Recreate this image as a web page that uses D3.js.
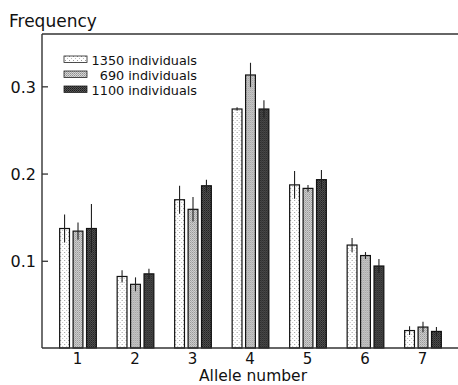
<!DOCTYPE html>
<html>
<head>
<meta charset="utf-8">
<script src="https://cdn.jsdelivr.net/npm/d3@7"></script>
<style>
  body { margin: 0; background: #fff; }
  svg text { font-family: "DejaVu Sans", sans-serif; fill: #111; }
</style>
</head>
<body>
<div id="chart"></div>
<script>
// data
const alleles = ["1", "2", "3", "4", "5", "6", "7"];
const seriesNames = ["1350 individuals", "690 individuals", "1100 individuals"];
const freq1350 = [0.137, 0.082, 0.170, 0.274, 0.187, 0.118, 0.020];
const freq690  = [0.134, 0.073, 0.159, 0.313, 0.183, 0.106, 0.024];
const freq1100 = [0.137, 0.085, 0.186, 0.274, 0.193, 0.094, 0.019];
const err1350 = [0.016, 0.007, 0.016, 0.002, 0.016, 0.008, 0.005];
const err690  = [0.010, 0.008, 0.014, 0.014, 0.004, 0.004, 0.006];
const err1100 = [0.028, 0.006, 0.007, 0.010, 0.011, 0.008, 0.005];
const yTicks = [0.1, 0.2, 0.3];

const W = 458, H = 385;
const margin = { top: 34, right: 0, bottom: 37, left: 42 };

const svg = d3.select("#chart").append("svg")
  .attr("width", W).attr("height", H);

// fill patterns for the three series
const defs = svg.append("defs");
const p1 = defs.append("pattern").attr("id", "pat0")
  .attr("width", 4).attr("height", 4).attr("patternUnits", "userSpaceOnUse");
p1.append("rect").attr("width", 4).attr("height", 4).attr("fill", "#fff");
p1.append("rect").attr("x", 1).attr("y", 0).attr("width", 1).attr("height", 1).attr("fill", "#999");
p1.append("rect").attr("x", 3).attr("y", 2).attr("width", 1).attr("height", 1).attr("fill", "#bbb");

const p2 = defs.append("pattern").attr("id", "pat1")
  .attr("width", 2).attr("height", 2).attr("patternUnits", "userSpaceOnUse");
p2.append("rect").attr("width", 2).attr("height", 2).attr("fill", "#d6d6d6");
p2.append("rect").attr("width", 1).attr("height", 1).attr("fill", "#8f8f8f");
p2.append("rect").attr("x", 1).attr("y", 1).attr("width", 1).attr("height", 1).attr("fill", "#a8a8a8");

const p3 = defs.append("pattern").attr("id", "pat2")
  .attr("width", 2).attr("height", 2).attr("patternUnits", "userSpaceOnUse");
p3.append("rect").attr("width", 2).attr("height", 2).attr("fill", "#555");
p3.append("rect").attr("width", 1).attr("height", 1).attr("fill", "#1a1a1a");
p3.append("rect").attr("x", 1).attr("y", 1).attr("width", 1).attr("height", 1).attr("fill", "#2e2e2e");

// scales
const x0 = d3.scaleBand()
  .domain(alleles)
  .range([margin.left, W - margin.right])
  .paddingInner(0.362)
  .paddingOuter(0.2985);

const x1 = d3.scaleBand()
  .domain(d3.range(3))
  .range([0, x0.bandwidth()])
  .paddingInner(0.27);

const y = d3.scaleLinear()
  .domain([0, 0.36])
  .range([H - margin.bottom, margin.top]);

const rows = alleles.map((a, i) => ({
  allele: a,
  vals: [freq1350[i], freq690[i], freq1100[i]],
  errs: [err1350[i], err690[i], err1100[i]]
}));

// bars
const groups = svg.append("g").selectAll("g")
  .data(rows).enter().append("g")
  .attr("transform", d => "translate(" + x0(d.allele) + ",0)");

groups.selectAll("rect")
  .data(d => d.vals.map((v, k) => ({ k: k, v: v })))
  .enter().append("rect")
  .attr("x", d => x1(d.k) + 0.5)
  .attr("y", d => y(d.v))
  .attr("width", x1.bandwidth())
  .attr("height", d => y(0) - y(d.v))
  .attr("fill", d => "url(#pat" + d.k + ")")
  .attr("stroke", "#111")
  .attr("stroke-width", 1.2);

// error bars
groups.selectAll("line.err")
  .data(d => d.vals.map((v, k) => ({ k: k, v: v, e: d.errs[k] })))
  .enter().append("line")
  .attr("class", "err")
  .attr("x1", d => x1(d.k) + x1.bandwidth() / 2 + 0.5)
  .attr("x2", d => x1(d.k) + x1.bandwidth() / 2 + 0.5)
  .attr("y1", d => y(d.v - d.e))
  .attr("y2", d => y(d.v + d.e))
  .attr("stroke", "#222")
  .attr("stroke-width", 1.1);

// frame: left axis, top line, baseline
svg.append("line")
  .attr("x1", margin.left).attr("x2", margin.left)
  .attr("y1", y(0.36)).attr("y2", y(0))
  .attr("stroke", "#333").attr("stroke-width", 1.4);
svg.append("line")
  .attr("x1", margin.left).attr("x2", W)
  .attr("y1", y(0.36)).attr("y2", y(0.36))
  .attr("stroke", "#333").attr("stroke-width", 1.4);
svg.append("line")
  .attr("x1", margin.left).attr("x2", W)
  .attr("y1", y(0)).attr("y2", y(0))
  .attr("stroke", "#333").attr("stroke-width", 1.4);

// y axis ticks (inward) and labels
const yAxis = svg.append("g")
  .attr("transform", "translate(" + margin.left + ",0)")
  .call(d3.axisRight(y).tickValues(yTicks).tickSize(6).tickFormat(d3.format(".1f")));
yAxis.select(".domain").remove();
yAxis.selectAll(".tick line").attr("stroke", "#333").attr("stroke-width", 1.3);
yAxis.selectAll(".tick text")
  .attr("x", -6).attr("text-anchor", "end")
  .attr("dy", "0.36em")
  .style("font-size", "16px");

// x axis labels
const xAxis = svg.append("g")
  .attr("transform", "translate(0," + y(0) + ")")
  .call(d3.axisBottom(x0).tickSize(0).tickPadding(5));
xAxis.select(".domain").remove();
xAxis.selectAll(".tick text").style("font-size", "15px");
xAxis.selectAll("text").attr("font-family", null);

// titles
svg.append("text")
  .attr("x", 9).attr("y", 27)
  .style("font-size", "17px")
  .text("Frequency");

svg.append("text")
  .attr("x", (x0("4") + x0.bandwidth() / 2) + 3).attr("y", 381)
  .attr("text-anchor", "middle")
  .style("font-size", "15.5px")
  .text("Allele number");

// legend
const legend = svg.append("g").selectAll("g")
  .data(seriesNames).enter().append("g")
  .attr("transform", (d, i) => "translate(64," + (56 + i * 15) + ")");
legend.append("rect")
  .attr("width", 23).attr("height", 6.5)
  .attr("fill", (d, i) => "url(#pat" + i + ")")
  .attr("stroke", "#222").attr("stroke-width", 0.8);
legend.append("text")
  .attr("x", 133).attr("y", 8.5)
  .attr("text-anchor", "end")
  .style("font-size", "12.8px")
  .text(d => d);
</script>
</body>
</html>
